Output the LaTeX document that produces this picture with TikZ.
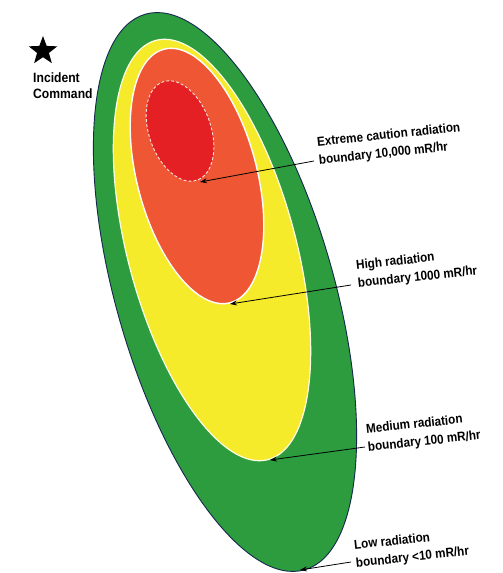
\documentclass[tikz,border=0pt]{standalone}
\usepackage{fontspec}
\setmainfont{Liberation Sans}
\newfontfamily\labfont[FakeStretch=0.9]{Liberation Sans}
\usetikzlibrary{shapes.geometric,arrows.meta}
\definecolor{zgreen}{RGB}{44,156,62}
\definecolor{zyellow}{RGB}{245,235,42}
\definecolor{zorange}{RGB}{238,86,52}
\definecolor{zred}{RGB}{228,32,36}
\definecolor{zedge}{RGB}{22,40,78}
\tikzset{
  lab/.style={font=\labfont\bfseries\fontsize{13}{18}\selectfont, align=left, anchor=west, inner sep=0pt, rotate=6},
  pointer/.style={line width=0.8pt, -{Stealth[length=7pt,width=5pt]}}
}
\begin{document}
\begin{tikzpicture}[x=1pt,y=1pt]
\useasboundingbox (0,0) rectangle (503,573);
\fill[white] (0,0) rectangle (503,573);
% zones
\filldraw[fill=zgreen, draw=zedge, line width=0.9pt, rotate around={16:(225,281)}] (225,281) ellipse (109 and 289);
\filldraw[fill=zyellow, draw=white!90!yellow, line width=1.2pt, rotate around={15:(212,323)}] (212,323) ellipse (84 and 217);
\filldraw[fill=zorange, draw=white, line width=1.4pt, rotate around={14.6:(197,397)}] (197,397) ellipse (60 and 131);
\filldraw[fill=zred, draw=white!85!zorange, line width=0.9pt, dash pattern=on 3pt off 2pt, rotate around={19:(180,442)}] (180,442) ellipse (31 and 52);
% incident command
\node[star, star points=5, star point ratio=2.4, fill=black, minimum size=30pt, inner sep=0pt] (star) at (43,522) {};
\node[font=\labfont\bfseries\fontsize{13.5}{16}\selectfont, align=left, anchor=west, inner sep=0pt] (ic) at (33,487) {Incident\\Command};
% labels
\node[lab] (l1) at (318,421) {Extreme caution radiation\\boundary 10,000 mR/hr};
\node[lab] (l2) at (357,298) {High radiation\\boundary 1000 mR/hr};
\node[lab] (l3) at (367,134) {Medium radiation\\boundary 100 mR/hr};
\node[lab] (l4) at (355,18) {Low radiation\\boundary <10 mR/hr};
\coordinate (t1) at (200,391);
\coordinate (t2) at (230,269);
\coordinate (t3) at (270,113);
\coordinate (t4) at (300,3);
\draw[pointer] ([xshift=-4pt,yshift=-9pt]l1.west) -- (t1);
\draw[pointer] ([xshift=-6pt,yshift=-10pt]l2.west) -- (t2);
\draw[pointer] ([xshift=-2pt,yshift=-8pt]l3.west) -- (t3);
\draw[pointer] ([xshift=-4pt,yshift=-7pt]l4.west) -- (t4);
\end{tikzpicture}
\end{document}
